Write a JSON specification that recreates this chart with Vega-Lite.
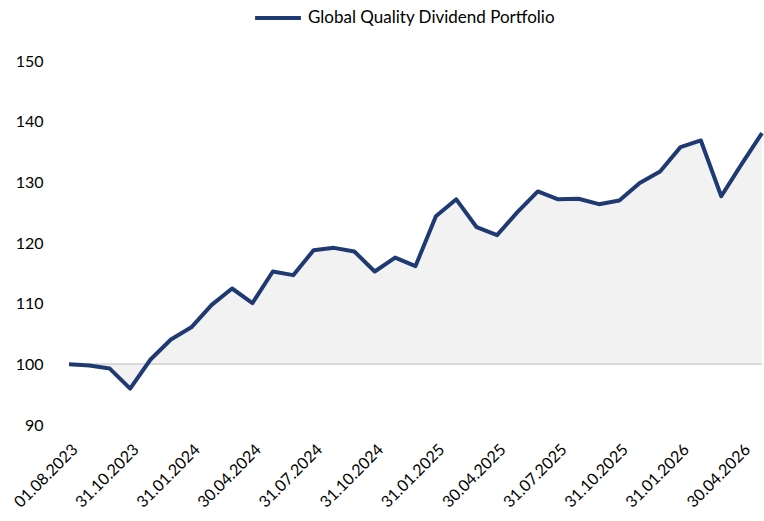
{
  "$schema": "https://vega.github.io/schema/vega-lite/v6.json",
  "autosize": "none",
  "width": 693,
  "height": 364,
  "padding": {"left": 69, "right": 2, "top": 61, "bottom": 96},
  "background": "white",
  "config": {
    "view": {"stroke": null},
    "font": "Lato"
  },
  "data": {
    "values": [
      {"date": "01.08.2023", "value": 100.0},
      {"date": "31.08.2023", "value": 99.8},
      {"date": "30.09.2023", "value": 99.3},
      {"date": "31.10.2023", "value": 96.0},
      {"date": "30.11.2023", "value": 100.8},
      {"date": "31.12.2023", "value": 104.1},
      {"date": "31.01.2024", "value": 106.1},
      {"date": "29.02.2024", "value": 109.8},
      {"date": "31.03.2024", "value": 112.5},
      {"date": "30.04.2024", "value": 110.1},
      {"date": "31.05.2024", "value": 115.3},
      {"date": "30.06.2024", "value": 114.7},
      {"date": "31.07.2024", "value": 118.8},
      {"date": "31.08.2024", "value": 119.2},
      {"date": "30.09.2024", "value": 118.6},
      {"date": "31.10.2024", "value": 115.3},
      {"date": "30.11.2024", "value": 117.6},
      {"date": "31.12.2024", "value": 116.2},
      {"date": "31.01.2025", "value": 124.4},
      {"date": "28.02.2025", "value": 127.2},
      {"date": "31.03.2025", "value": 122.6},
      {"date": "30.04.2025", "value": 121.3},
      {"date": "31.05.2025", "value": 125.1},
      {"date": "30.06.2025", "value": 128.5},
      {"date": "31.07.2025", "value": 127.2},
      {"date": "31.08.2025", "value": 127.3},
      {"date": "30.09.2025", "value": 126.4},
      {"date": "31.10.2025", "value": 127.0},
      {"date": "30.11.2025", "value": 129.9},
      {"date": "31.12.2025", "value": 131.8},
      {"date": "31.01.2026", "value": 135.8},
      {"date": "28.02.2026", "value": 136.9},
      {"date": "31.03.2026", "value": 127.7},
      {"date": "30.04.2026", "value": 133.0},
      {"date": "31.05.2026", "value": 138.1}
    ]
  },
  "encoding": {
    "x": {
      "field": "date",
      "type": "ordinal",
      "sort": null,
      "scale": {"type": "point", "padding": 0},
      "axis": {
        "title": null,
        "values": ["01.08.2023", "31.10.2023", "31.01.2024", "30.04.2024", "31.07.2024", "31.10.2024", "31.01.2025", "30.04.2025", "31.07.2025", "31.10.2025", "31.01.2026", "30.04.2026"],
        "labelAngle": -45,
        "labelFontSize": 16,
        "labelColor": "#000000",
        "labelPadding": 16,
        "labelOverlap": false,
        "ticks": false,
        "domain": false,
        "grid": false
      }
    }
  },
  "layer": [
    {
      "mark": {"type": "area", "color": "#f2f2f2"},
      "encoding": {
        "y": {
          "field": "value",
          "type": "quantitative",
          "scale": {"domain": [90, 150], "nice": false, "zero": false},
          "axis": {
            "title": null,
            "values": [90, 100, 110, 120, 130, 140, 150],
            "labelFontSize": 16,
            "labelColor": "#000000",
            "labelPadding": 26,
            "ticks": false,
            "domain": false,
            "grid": false
          }
        },
        "y2": {"datum": 100}
      }
    },
    {
      "mark": {"type": "rule", "color": "#d9d9d9", "strokeWidth": 1.5},
      "encoding": {"x": null, "y": {"datum": 100}}
    },
    {
      "mark": {"type": "line", "strokeWidth": 4, "strokeJoin": "round"},
      "encoding": {
        "y": {"field": "value", "type": "quantitative"},
        "color": {
          "datum": "Global Quality Dividend Portfolio",
          "scale": {"range": ["#1f3a73"]},
          "legend": {
            "title": null,
            "orient": "none",
            "legendX": 184,
            "legendY": -68,
            "direction": "horizontal",
            "symbolType": "stroke",
            "symbolSize": 2100,
            "symbolStrokeWidth": 4,
            "labelFontSize": 17,
            "labelColor": "#000000",
            "labelFont": "Lato",
            "labelOffset": 5,
            "labelLimit": 500
          }
        }
      }
    }
  ]
}
